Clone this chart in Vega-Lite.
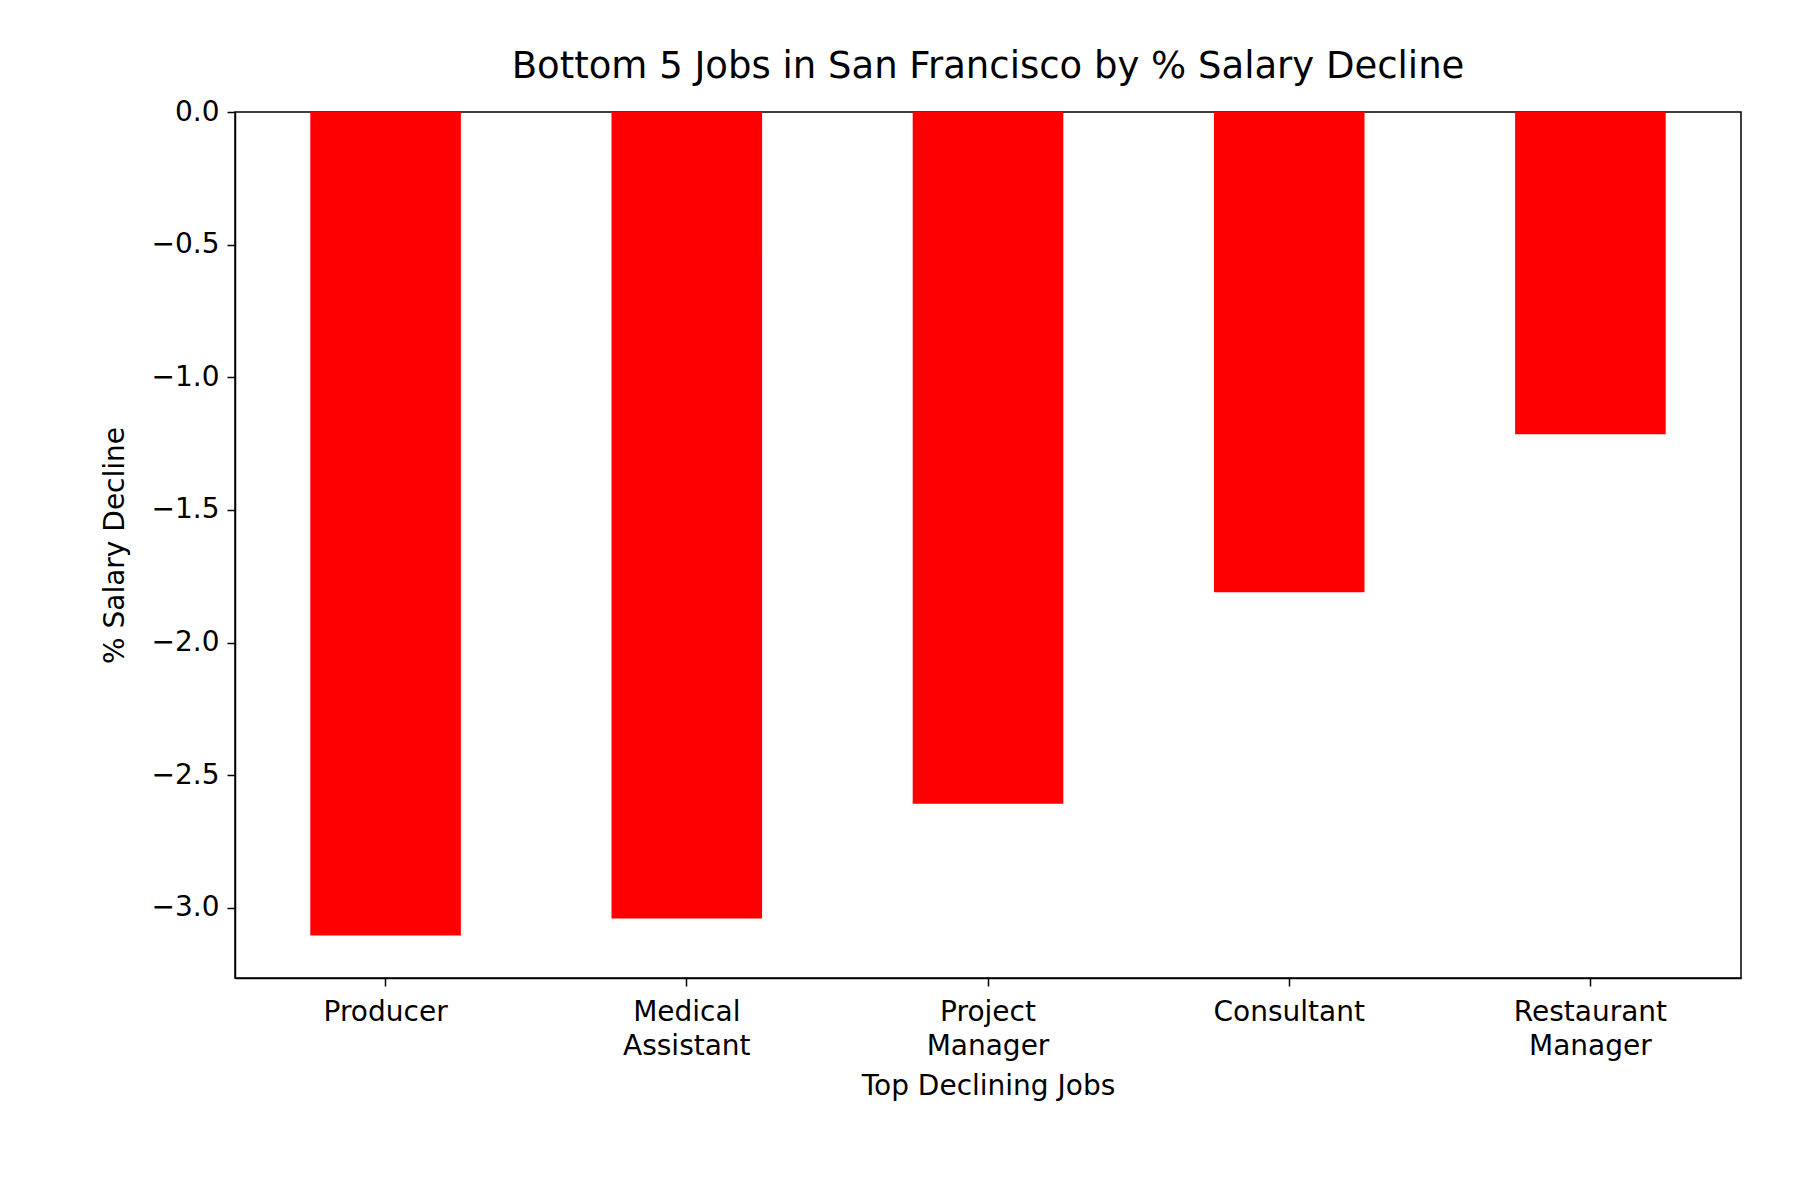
{
  "$schema": "https://vega.github.io/schema/vega-lite/v6.json",
  "width": 1506,
  "height": 866,
  "autosize": "none",
  "padding": {"left": 235, "top": 112, "right": 59, "bottom": 222},
  "background": "white",
  "title": {"text": "Bottom 5 Jobs in San Francisco by % Salary Decline", "fontSize": 37, "font": "DejaVu Sans", "fontWeight": "normal", "offset": 12, "color": "black"},
  "data": {"values": [
    {"job": "Producer", "decline": -3.104},
    {"job": "Medical Assistant", "decline": -3.04},
    {"job": "Project Manager", "decline": -2.607},
    {"job": "Consultant", "decline": -1.81},
    {"job": "Restaurant Manager", "decline": -1.215}
  ]},
  "mark": {"type": "bar", "color": "#ff0000"},
  "encoding": {
    "x": {"field": "job", "type": "nominal", "sort": null, "title": "Top Declining Jobs",
      "scale": {"paddingInner": 0.5, "paddingOuter": 0.25},
      "axis": {"labelAngle": 0, "labelExpr": "split(datum.label, ' ')", "labelFontSize": 28, "labelLineHeight": 34, "titleFontSize": 28, "titlePadding": 12, "tickSize": 8, "labelPadding": 12}},
    "y": {"field": "decline", "type": "quantitative", "title": "% Salary Decline",
      "scale": {"domain": [-3.264, 0], "nice": false, "zero": false},
      "axis": {"values": [0, -0.5, -1, -1.5, -2, -2.5, -3], "labelExpr": "replace(format(datum.value, '.1f'), '-', '−')", "labelFontSize": 28, "titleFontSize": 28, "tickSize": 8, "labelPadding": 8, "titlePadding": 22}}
  },
  "config": {
    "font": "DejaVu Sans",
    "view": {"stroke": "black", "strokeWidth": 1.5},
    "axis": {"grid": false, "domainColor": "black", "tickColor": "black", "labelColor": "black", "titleColor": "black", "titleFontWeight": "normal", "domainWidth": 1.5, "tickWidth": 1.5, "labelFont": "DejaVu Sans", "titleFont": "DejaVu Sans"}
  }
}
